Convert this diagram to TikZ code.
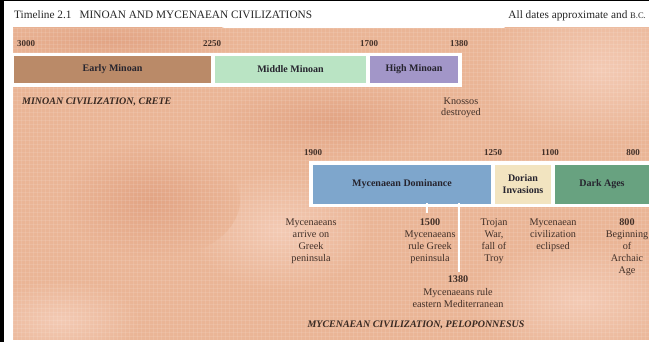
\documentclass[tikz,border=0pt]{standalone}
\usepackage{fontspec}
\setmainfont{Liberation Serif}
\definecolor{bgc}{RGB}{234,181,150}
\definecolor{bgl}{RGB}{243,202,180}
\definecolor{bgd}{RGB}{226,164,132}
\definecolor{earlyc}{RGB}{186,138,104}
\definecolor{midc}{RGB}{186,228,196}
\definecolor{highc}{RGB}{162,150,200}
\definecolor{mycc}{RGB}{126,166,204}
\definecolor{dorc}{RGB}{242,228,192}
\definecolor{darkc}{RGB}{104,162,128}
\definecolor{ink}{RGB}{66,48,40}
\definecolor{boxink}{RGB}{38,36,46}
\begin{document}
\begin{tikzpicture}[x=1pt,y=-1pt,
  band/.style={inner sep=0pt, minimum height=#1, text=boxink, font=\fontsize{10}{11}\selectfont\bfseries, align=center},
  era/.style={band=27pt, minimum width=#1},
  era2/.style={band=39pt, minimum width=#1},
  yr/.style={inner sep=0pt, text=ink, font=\fontsize{9}{10}\selectfont\bfseries},
  lbl/.style={inner sep=0pt, anchor=north, align=center, text=ink, font=\fontsize{10.2}{12}\selectfont},
  civ/.style={inner sep=0pt, text=ink!85!black, font=\fontsize{10}{12}\selectfont\bfseries\itshape},
  tick/.style={draw=white, line width=2pt},
  frame/.style={fill=white, draw=none}]
\useasboundingbox (0,0) rectangle (649,342);
\fill[white] (0,0) rectangle (649,342);
% textured background
\fill[bgc] (13,28) rectangle (649,340);
\begin{scope}
\clip (13,28) rectangle (649,340);
\shade[inner color=bgl, outer color=bgc] (600,70) ellipse (120 and 70);
\shade[inner color=bgl, outer color=bgc] (280,230) ellipse (90 and 60);
\shade[inner color=bgl, outer color=bgc] (580,300) ellipse (110 and 60);
\shade[inner color=bgl, outer color=bgc] (60,320) ellipse (80 and 40);
\shade[inner color=bgd, outer color=bgc] (110,40) ellipse (130 and 25);
\shade[inner color=bgd, outer color=bgc] (330,120) ellipse (120 and 40);
\shade[inner color=bgd, outer color=bgc] (150,200) ellipse (90 and 60);
\foreach \i in {13,17,...,649} \draw[white, opacity=0.10, line width=0.6pt] (\i,28) -- (\i,340);
\foreach \j in {28,32,...,340} \draw[white, opacity=0.10, line width=0.6pt] (13,\j) -- (649,\j);
\end{scope}
% black border
\fill[black] (0,0) rectangle (4,342);
\fill[black] (0,0) rectangle (649,1.2);
% header
\node[inner sep=0pt, anchor=base west, font=\fontsize{11.3}{13}\selectfont, text=black!85] (title) at (14,18.5) {Timeline 2.1\hspace{8pt}MINOAN AND MYCENAEAN CIVILIZATIONS};
\node[inner sep=0pt, anchor=base east, font=\fontsize{11.3}{13}\selectfont, text=black!85] (note) at (646,18.5) {All dates approximate and {\fontsize{8.5}{10}\selectfont B.C.}};
% Minoan row
\fill[frame] (12,53) rectangle (462,87);
\node[era=197pt, fill=earlyc] (early) at (112.5,69.5) {Early Minoan};
\node[era=151pt, fill=midc] (middle) at (290.5,69.5) {Middle Minoan};
\node[era=88pt, fill=highc] (high) at (414,69.5) {High Minoan};
\node[yr] (y3000) at (26,44) {3000};
\node[yr] (y2250) at (212,44) {2250};
\node[yr] (y1700) at (369,44) {1700};
\node[yr] (y1380a) at (459,44) {1380};
\node[civ, anchor=west] (minoan) at (22,102) {MINOAN CIVILIZATION, CRETE};
\node[lbl, font=\fontsize{10.2}{11}\selectfont] (knossos) at (461,98) {Knossos\\destroyed};
% Mycenaean row
\fill[frame] (309,161) rectangle (649,207);
\node[era2=178pt, fill=mycc] (myc) at (402,184.5) {Mycenaean Dominance};
\node[era2=56pt, fill=dorc] (dorian) at (523,184.5) {Dorian\\[1pt]Invasions};
\node[era2=94pt, fill=darkc] (dark) at (602,184.5) {Dark Ages};
\node[yr] (y1900) at (313,153) {1900};
\node[yr] (y1250) at (493,153) {1250};
\node[yr] (y1100) at (550,153) {1100};
\node[yr] (y800) at (633,153) {800};
\coordinate (t1500) at (427,213);
\coordinate (t1380) at (458.5,272);
\draw[tick] (myc.south -| t1500) ++(0,-1) -- (t1500);
\draw[tick] (myc.south -| t1380) ++(0,-1) -- (t1380);
\node[lbl] (arrive) at (311,219) {Mycenaeans\\arrive on\\Greek\\peninsula};
\node[lbl] (rule) at (430,219) {{\bfseries 1500}\\Mycenaeans\\rule Greek\\peninsula};
\node[lbl] (troy) at (494,219) {Trojan\\War,\\fall of\\Troy};
\node[lbl] (eclipse) at (553,219) {Mycenaean\\civilization\\eclipsed};
\node[lbl] (archaic) at (627,219) {{\bfseries 800}\\Beginning\\of\\Archaic\\Age};
\node[lbl, font=\fontsize{10.2}{12.5}\selectfont] (med) at (458,276) {{\bfseries 1380}\\Mycenaeans rule\\eastern Mediterranean};
\node[civ] (pelop) at (416,325) {MYCENAEAN CIVILIZATION, PELOPONNESUS};
\end{tikzpicture}
\end{document}
